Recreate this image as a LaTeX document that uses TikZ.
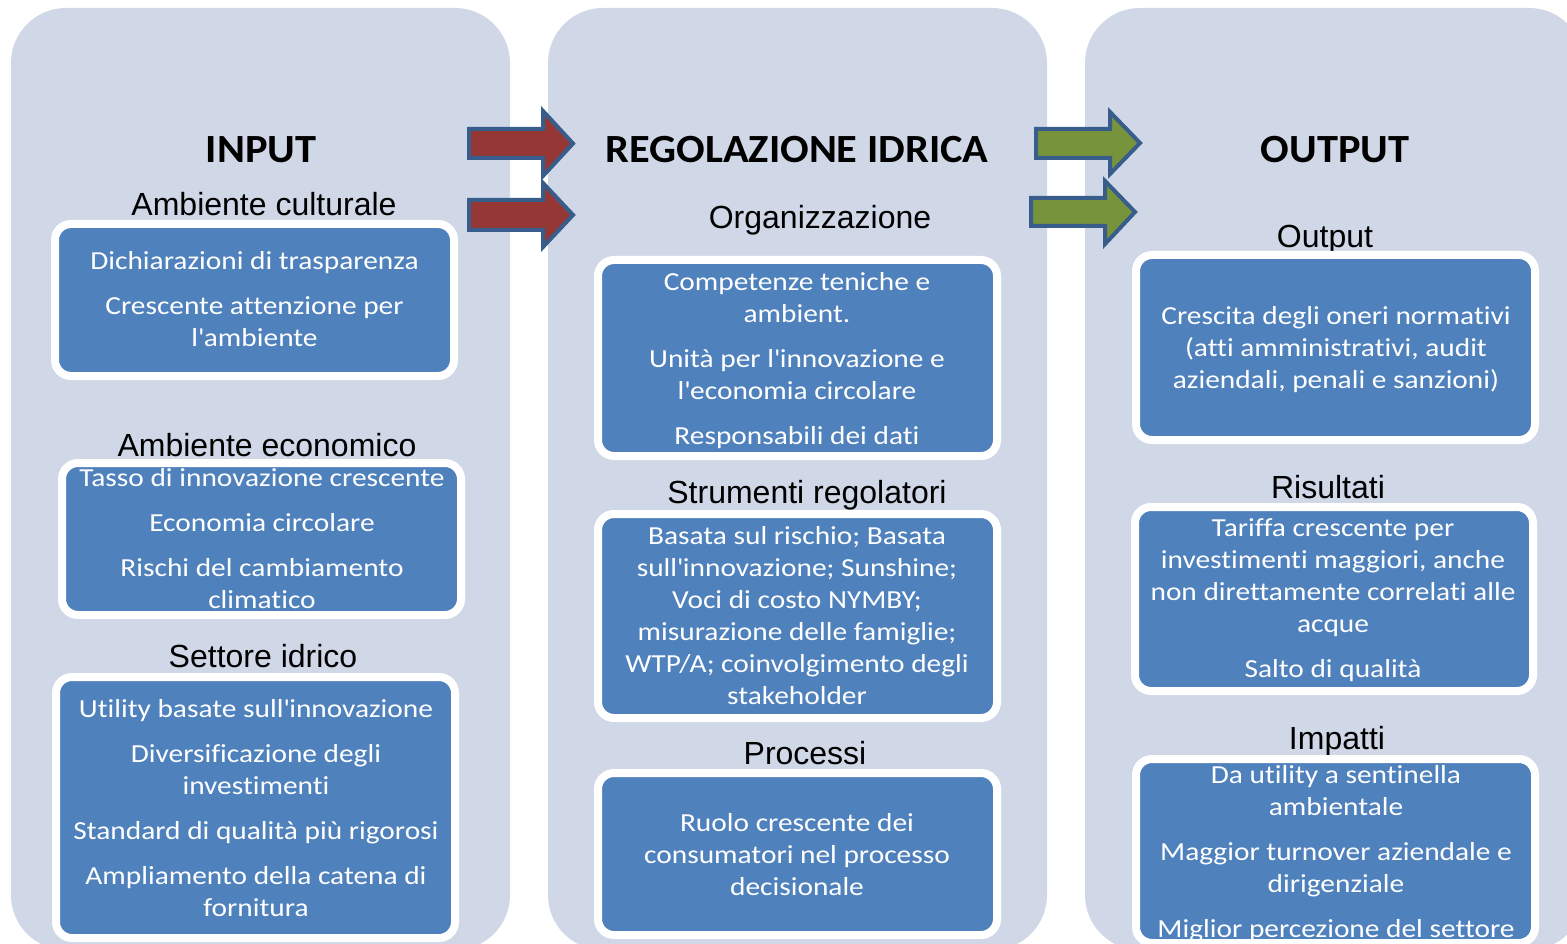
\documentclass[tikz,border=0pt]{standalone}
\usepackage{fontspec}
\setmainfont{Carlito}[Ligatures={NoCommon}, FakeStretch=1.13]
\newfontfamily\headf{Carlito}[Ligatures={NoCommon}, FakeStretch=1.06]
\newfontfamily\arialf{Liberation Sans}
\usetikzlibrary{positioning}
\definecolor{panelbg}{HTML}{D0D8E8}
\definecolor{boxblue}{HTML}{4F81BD}
\definecolor{arrred}{HTML}{953735}
\definecolor{arrgreen}{HTML}{77933C}
\definecolor{arrline}{HTML}{385D8A}
\newcommand{\ap}{\textquotesingle}
\tikzset{
  panel/.style={fill=panelbg, draw=none, rounded corners=55pt},
  bluebox/.style={draw=white, line width=8pt, fill=boxblue, rounded corners=16pt, inner sep=0pt},
  txt/.style={font=\fontsize{26}{32}\selectfont, text=white, align=center, inner sep=0pt, anchor=north},
  subhead/.style={font=\arialf\fontsize{32}{36}\selectfont, text=black, inner sep=0pt, anchor=base},
  mainhead/.style={font=\headf\bfseries\fontsize{40}{48}\selectfont, text=black, inner sep=0pt, anchor=base},
  redarrow/.style={fill=arrred, draw=arrline, line width=4pt, line join=miter},
  greenarrow/.style={fill=arrgreen, draw=arrline, line width=4pt, line join=miter}
}
\begin{document}
\begin{tikzpicture}[x=1pt, y=-1pt]
\useasboundingbox (0,0) rectangle (1567,944);
\fill[white] (0,0) rectangle (1567,944);
% panels
\path[panel] (11,8) rectangle (510,950);
\path[panel] (548,8) rectangle (1047,950);
\path[panel] (1085,8) rectangle (1584,950);
% arrows
\path[redarrow] (469,129) -- (543,129) -- (543,111) -- (573,143.5) -- (543,176) -- (543,158) -- (469,158) -- cycle;
\path[redarrow] (469,200) -- (543,200) -- (543,183) -- (573,215) -- (543,247) -- (543,230) -- (469,230) -- cycle;
\path[greenarrow] (1036,129) -- (1110,129) -- (1110,112) -- (1140,143) -- (1110,174) -- (1110,158) -- (1036,158) -- cycle;
\path[greenarrow] (1031,198) -- (1105,198) -- (1105,181) -- (1135,212) -- (1105,244) -- (1105,226) -- (1031,226) -- cycle;
% headings
\node[mainhead] (hin) at (261,162.5) {INPUT};
\node[mainhead] (hreg) at (797,162.5) {REGOLAZIONE IDRICA};
\node[mainhead] (hout) at (1335,162.5) {OUTPUT};
% sub headings
\node[subhead] (s1) at (264,216) {Ambiente culturale};
\node[subhead] (s2) at (267,456.5) {Ambiente economico};
\node[subhead] (s3) at (263,667.5) {Settore idrico};
\node[subhead] (s4) at (820,228.5) {Organizzazione};
\node[subhead] (s5) at (807,503) {Strumenti regolatori};
\node[subhead] (s6) at (805,764.5) {Processi};
\node[subhead] (s7) at (1325,247.5) {Output};
\node[subhead] (s8) at (1328,498) {Risultati};
\node[subhead] (s9) at (1337,749) {Impatti};
% boxes
\node[bluebox, minimum width=399pt, minimum height=152pt] (b1) at (254.5,300) {};
\node[bluebox, minimum width=399pt, minimum height=152pt] (b2) at (261.5,539) {};
\node[bluebox, minimum width=399pt, minimum height=261pt] (b3) at (255.5,807.5) {};
\node[bluebox, minimum width=399pt, minimum height=196pt] (m1) at (797.5,358) {};
\node[bluebox, minimum width=399pt, minimum height=204pt] (m2) at (797.5,616) {};
\node[bluebox, minimum width=399pt, minimum height=162pt] (m3) at (797.5,854) {};
\node[bluebox, minimum width=399pt, minimum height=185pt] (r1) at (1335.5,347.5) {};
\node[bluebox, minimum width=398pt, minimum height=184pt] (r2) at (1334,599) {};
\node[bluebox, minimum width=399pt, minimum height=184pt] (r3) at (1335.5,851) {};
% box texts
\node[txt] (t1) at (254.5,246.8) {\strut Dichiarazioni di trasparenza\\[13pt]Crescente attenzione per\\l\ap ambiente};
\node[txt] (t2) at (262,463.8) {\strut Tasso di innovazione crescente\\[13pt]Economia circolare\\[13pt]Rischi del cambiamento\\climatico};
\node[txt] (t3) at (256,694.6) {\strut Utility basate sull\ap innovazione\\[13pt]Diversificazione degli\\investimenti\\[13pt]Standard di qualità più rigorosi\\[13pt]Ampliamento della catena di\\fornitura};
\node[txt] (tm1) at (797,267.6) {\strut Competenze teniche e\\ambient.\\[13pt]Unità per l\ap innovazione e\\l\ap economia circolare\\[13pt]Responsabili dei dati};
\node[txt] (tm2) at (797,521.6) {\strut Basata sul rischio; Basata\\sull\ap innovazione; Sunshine;\\Voci di costo NYMBY;\\misurazione delle famiglie;\\WTP/A; coinvolgimento degli\\stakeholder};
\node[txt] (tm3) at (797,808.6) {\strut Ruolo crescente dei\\consumatori nel processo\\decisionale};
\node[txt] (tr1) at (1336,301.6) {\strut Crescita degli oneri normativi\\(atti amministrativi, audit\\aziendali, penali e sanzioni)};
\node[txt] (tr2) at (1333,513.6) {\strut Tariffa crescente per\\investimenti maggiori, anche\\non direttamente correlati alle\\acque\\[13pt]Salto di qualità};
\node[txt] (tr3) at (1336,760.6) {\strut Da utility a sentinella\\ambientale\\[13pt]Maggior turnover aziendale e\\dirigenziale\\[13pt]Miglior percezione del settore};
\end{tikzpicture}
\end{document}
